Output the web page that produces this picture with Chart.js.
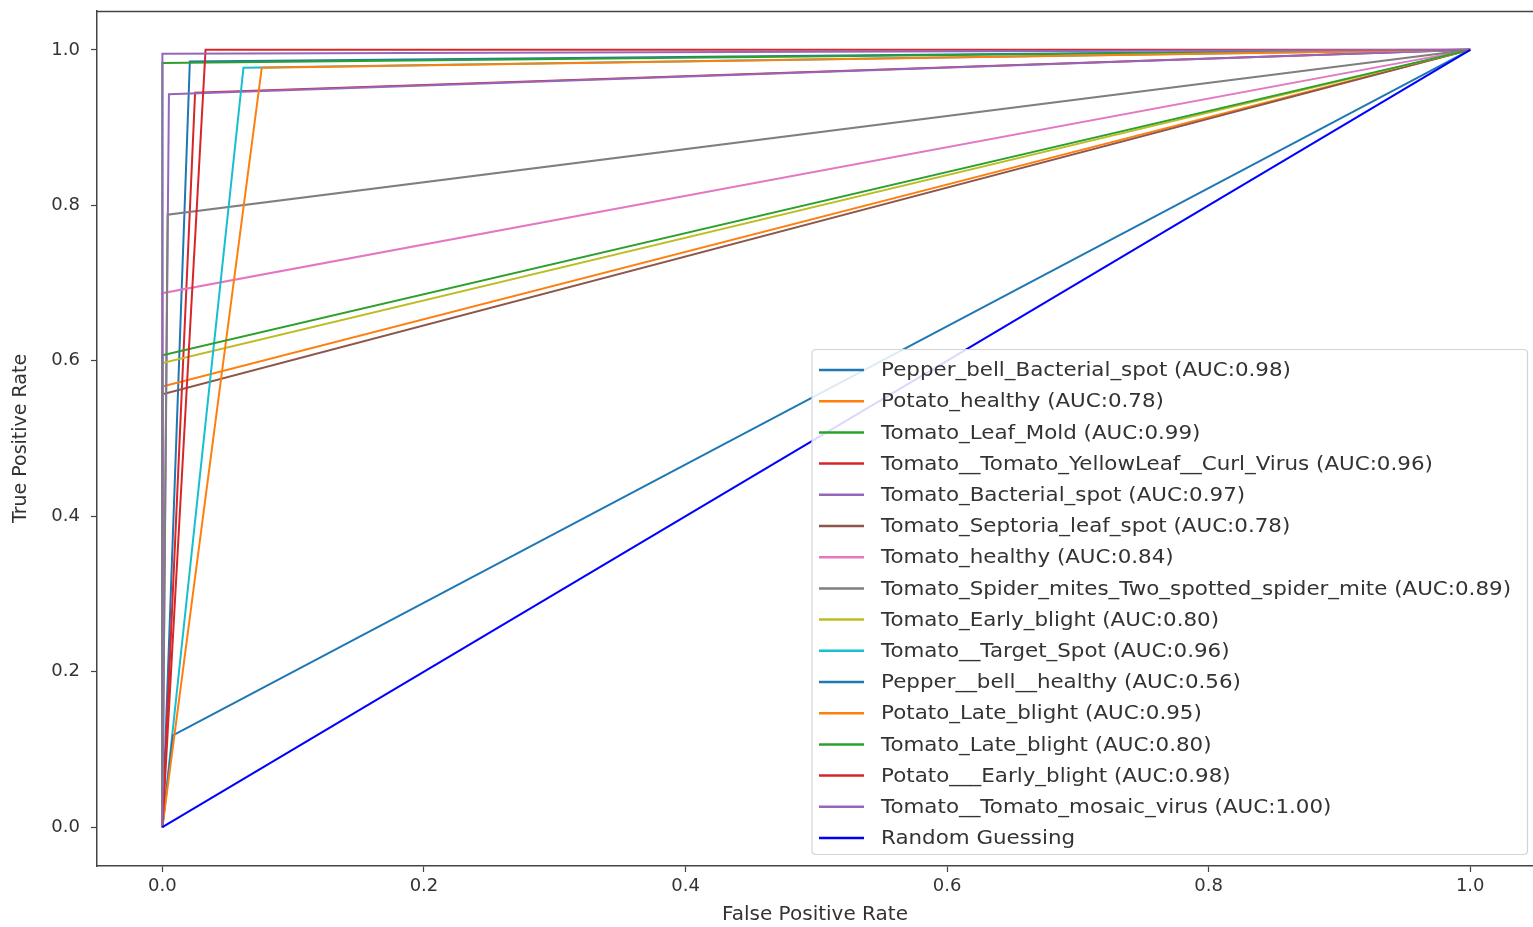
<!DOCTYPE html>
<html>
<head>
<meta charset="utf-8">
<script src="https://cdn.jsdelivr.net/npm/chart.js@4.4.1/dist/chart.umd.min.js"></script>
<style>
  html, body { margin: 0; padding: 0; background: #ffffff; }
  #wrap { width: 1533px; height: 927px; }
</style>
</head>
<body>
<div id="wrap"><canvas id="c" width="1533" height="927"></canvas></div>
<script>
// ---- data ----
const classNames = [
  "Pepper_bell_Bacterial_spot",
  "Potato_healthy",
  "Tomato_Leaf_Mold",
  "Tomato__Tomato_YellowLeaf__Curl_Virus",
  "Tomato_Bacterial_spot",
  "Tomato_Septoria_leaf_spot",
  "Tomato_healthy",
  "Tomato_Spider_mites_Two_spotted_spider_mite",
  "Tomato_Early_blight",
  "Tomato__Target_Spot",
  "Pepper__bell__healthy",
  "Potato_Late_blight",
  "Tomato_Late_blight",
  "Potato___Early_blight",
  "Tomato__Tomato_mosaic_virus"
];
const aucValues = ["0.98", "0.78", "0.99", "0.96", "0.97", "0.78", "0.84", "0.89", "0.80", "0.96", "0.56", "0.95", "0.80", "0.98", "1.00"];
// ROC curves: (0,0) -> (fpr, tpr) -> (1,1)
const kneeFpr = [0.021, 0.000, 0.000, 0.025, 0.005, 0.000, 0.000, 0.004, 0.000, 0.062, 0.008, 0.076, 0.000, 0.033, 0.000];
const kneeTpr = [0.985, 0.567, 0.983, 0.945, 0.943, 0.557, 0.687, 0.788, 0.597, 0.977, 0.118, 0.977, 0.607, 1.000, 0.995];
const randomFpr = [0, 1];
const randomTpr = [0, 1];
const randomLabel = "Random Guessing";
const xTickValues = [0.0, 0.2, 0.4, 0.6, 0.8, 1.0];
const xTickLabels = ["0.0", "0.2", "0.4", "0.6", "0.8", "1.0"];
const yTickValues = [0.0, 0.2, 0.4, 0.6, 0.8, 1.0];
const yTickLabels = ["0.0", "0.2", "0.4", "0.6", "0.8", "1.0"];
const xTitle = "False Positive Rate";
const yTitle = "True Positive Rate";

// ---- styles ----
const palette = ["#1f77b4", "#ff7f0e", "#2ca02c", "#d62728", "#9467bd",
                 "#8c564b", "#e377c2", "#7f7f7f", "#bcbd22", "#17becf"];
const randomColor = "#0000ff";
const FONT = "'DejaVu Sans', 'Liberation Sans', sans-serif";
Chart.defaults.font.family = FONT;

const datasets = classNames.map((name, i) => ({
  label: name + " (AUC:" + aucValues[i] + ")",
  data: [{x: 0, y: 0}, {x: kneeFpr[i], y: kneeTpr[i]}, {x: 1, y: 1}],
  borderColor: palette[i % palette.length],
  borderWidth: 2,
  pointRadius: 0,
  tension: 0,
  fill: false,
  order: 100 - i
}));
datasets.push({
  label: randomLabel,
  data: randomFpr.map((x, k) => ({x: x, y: randomTpr[k]})),
  borderColor: randomColor,
  borderWidth: 2,
  pointRadius: 0,
  tension: 0,
  fill: false,
  order: 0
});

const axisColor = "#444";
const textColor = "#333";

const frameAndLegend = {
  id: "frameAndLegend",
  afterDraw(chart) {
    const ctx = chart.ctx;
    const a = chart.chartArea;
    ctx.save();
    // top spine
    ctx.strokeStyle = axisColor;
    ctx.lineWidth = 1.5;
    ctx.beginPath();
    ctx.moveTo(a.left, a.top + 0.5);
    ctx.lineTo(a.right, a.top + 0.5);
    ctx.stroke();

    // legend
    const ds = chart.data.datasets;
    const fontSize = 20;
    const stretch = 1.07;
    ctx.font = fontSize + "px " + FONT;
    const rowH = 31.2;
    const boxLeft = 812, boxTop = 349.5, boxRight = 1527.5;
    const boxBottom = boxTop + 20 + rowH * (ds.length - 1) + 17;
    const r = 4;
    ctx.beginPath();
    ctx.moveTo(boxLeft + r, boxTop);
    ctx.lineTo(boxRight - r, boxTop);
    ctx.quadraticCurveTo(boxRight, boxTop, boxRight, boxTop + r);
    ctx.lineTo(boxRight, boxBottom - r);
    ctx.quadraticCurveTo(boxRight, boxBottom, boxRight - r, boxBottom);
    ctx.lineTo(boxLeft + r, boxBottom);
    ctx.quadraticCurveTo(boxLeft, boxBottom, boxLeft, boxBottom - r);
    ctx.lineTo(boxLeft, boxTop + r);
    ctx.quadraticCurveTo(boxLeft, boxTop, boxLeft + r, boxTop);
    ctx.closePath();
    ctx.fillStyle = "rgba(255,255,255,0.85)";
    ctx.fill();
    ctx.strokeStyle = "#d4d4d4";
    ctx.lineWidth = 1.2;
    ctx.stroke();

    ctx.textBaseline = "middle";
    ctx.textAlign = "left";
    ds.forEach((d, i) => {
      const y = boxTop + 20.5 + rowH * i;
      ctx.strokeStyle = d.borderColor;
      ctx.lineWidth = 2.5;
      ctx.beginPath();
      ctx.moveTo(819, y);
      ctx.lineTo(864, y);
      ctx.stroke();
      ctx.fillStyle = textColor;
      ctx.save();
      ctx.translate(881, y + 1);
      ctx.scale(stretch, 1);
      ctx.fillText(d.label, 0, 0);
      ctx.restore();
    });
    ctx.restore();
  }
};

new Chart(document.getElementById("c"), {
  type: "line",
  data: { datasets: datasets },
  options: {
    responsive: false,
    animation: false,
    devicePixelRatio: 1,
    layout: { padding: { top: 11, right: 0, bottom: 0, left: 0 } },
    plugins: {
      legend: { display: false },
      tooltip: { enabled: false },
      title: { display: false }
    },
    scales: {
      x: {
        type: "linear",
        min: -0.05,
        max: 1.048,
        afterBuildTicks(scale) { scale.ticks = xTickValues.map(v => ({ value: v })); },
        afterFit(scale) { scale.height = 61; scale.paddingLeft = 0; scale.paddingRight = 0; },
        ticks: {
          callback(value, index) { return xTickLabels[index]; },
          color: textColor,
          font: { size: 18, family: FONT },
          padding: 4,
          maxRotation: 0,
          autoSkip: false
        },
        grid: {
          display: true,
          drawOnChartArea: false,
          drawTicks: true,
          tickLength: 6,
          tickColor: axisColor,
          tickWidth: 1.2
        },
        border: { display: true, color: axisColor, width: 1.5 },
        title: {
          display: true,
          text: xTitle,
          color: textColor,
          font: { size: 20, family: FONT },
          padding: { top: 0, bottom: 0 }
        }
      },
      y: {
        type: "linear",
        min: -0.05,
        max: 1.05,
        afterBuildTicks(scale) { scale.ticks = yTickValues.map(v => ({ value: v })); },
        afterFit(scale) { scale.width = 97; scale.paddingTop = 0; scale.paddingBottom = 0; },
        ticks: {
          callback(value, index) { return yTickLabels[index]; },
          color: textColor,
          font: { size: 18, family: FONT },
          padding: 11,
          autoSkip: false
        },
        grid: {
          display: true,
          drawOnChartArea: false,
          drawTicks: true,
          tickLength: 6,
          tickColor: axisColor,
          tickWidth: 1.2
        },
        border: { display: true, color: axisColor, width: 1.5 },
        title: {
          display: true,
          text: yTitle,
          color: textColor,
          font: { size: 19, family: FONT },
          padding: { top: 10, bottom: 0 }
        }
      }
    }
  },
  plugins: [frameAndLegend]
});
</script>
</body>
</html>
